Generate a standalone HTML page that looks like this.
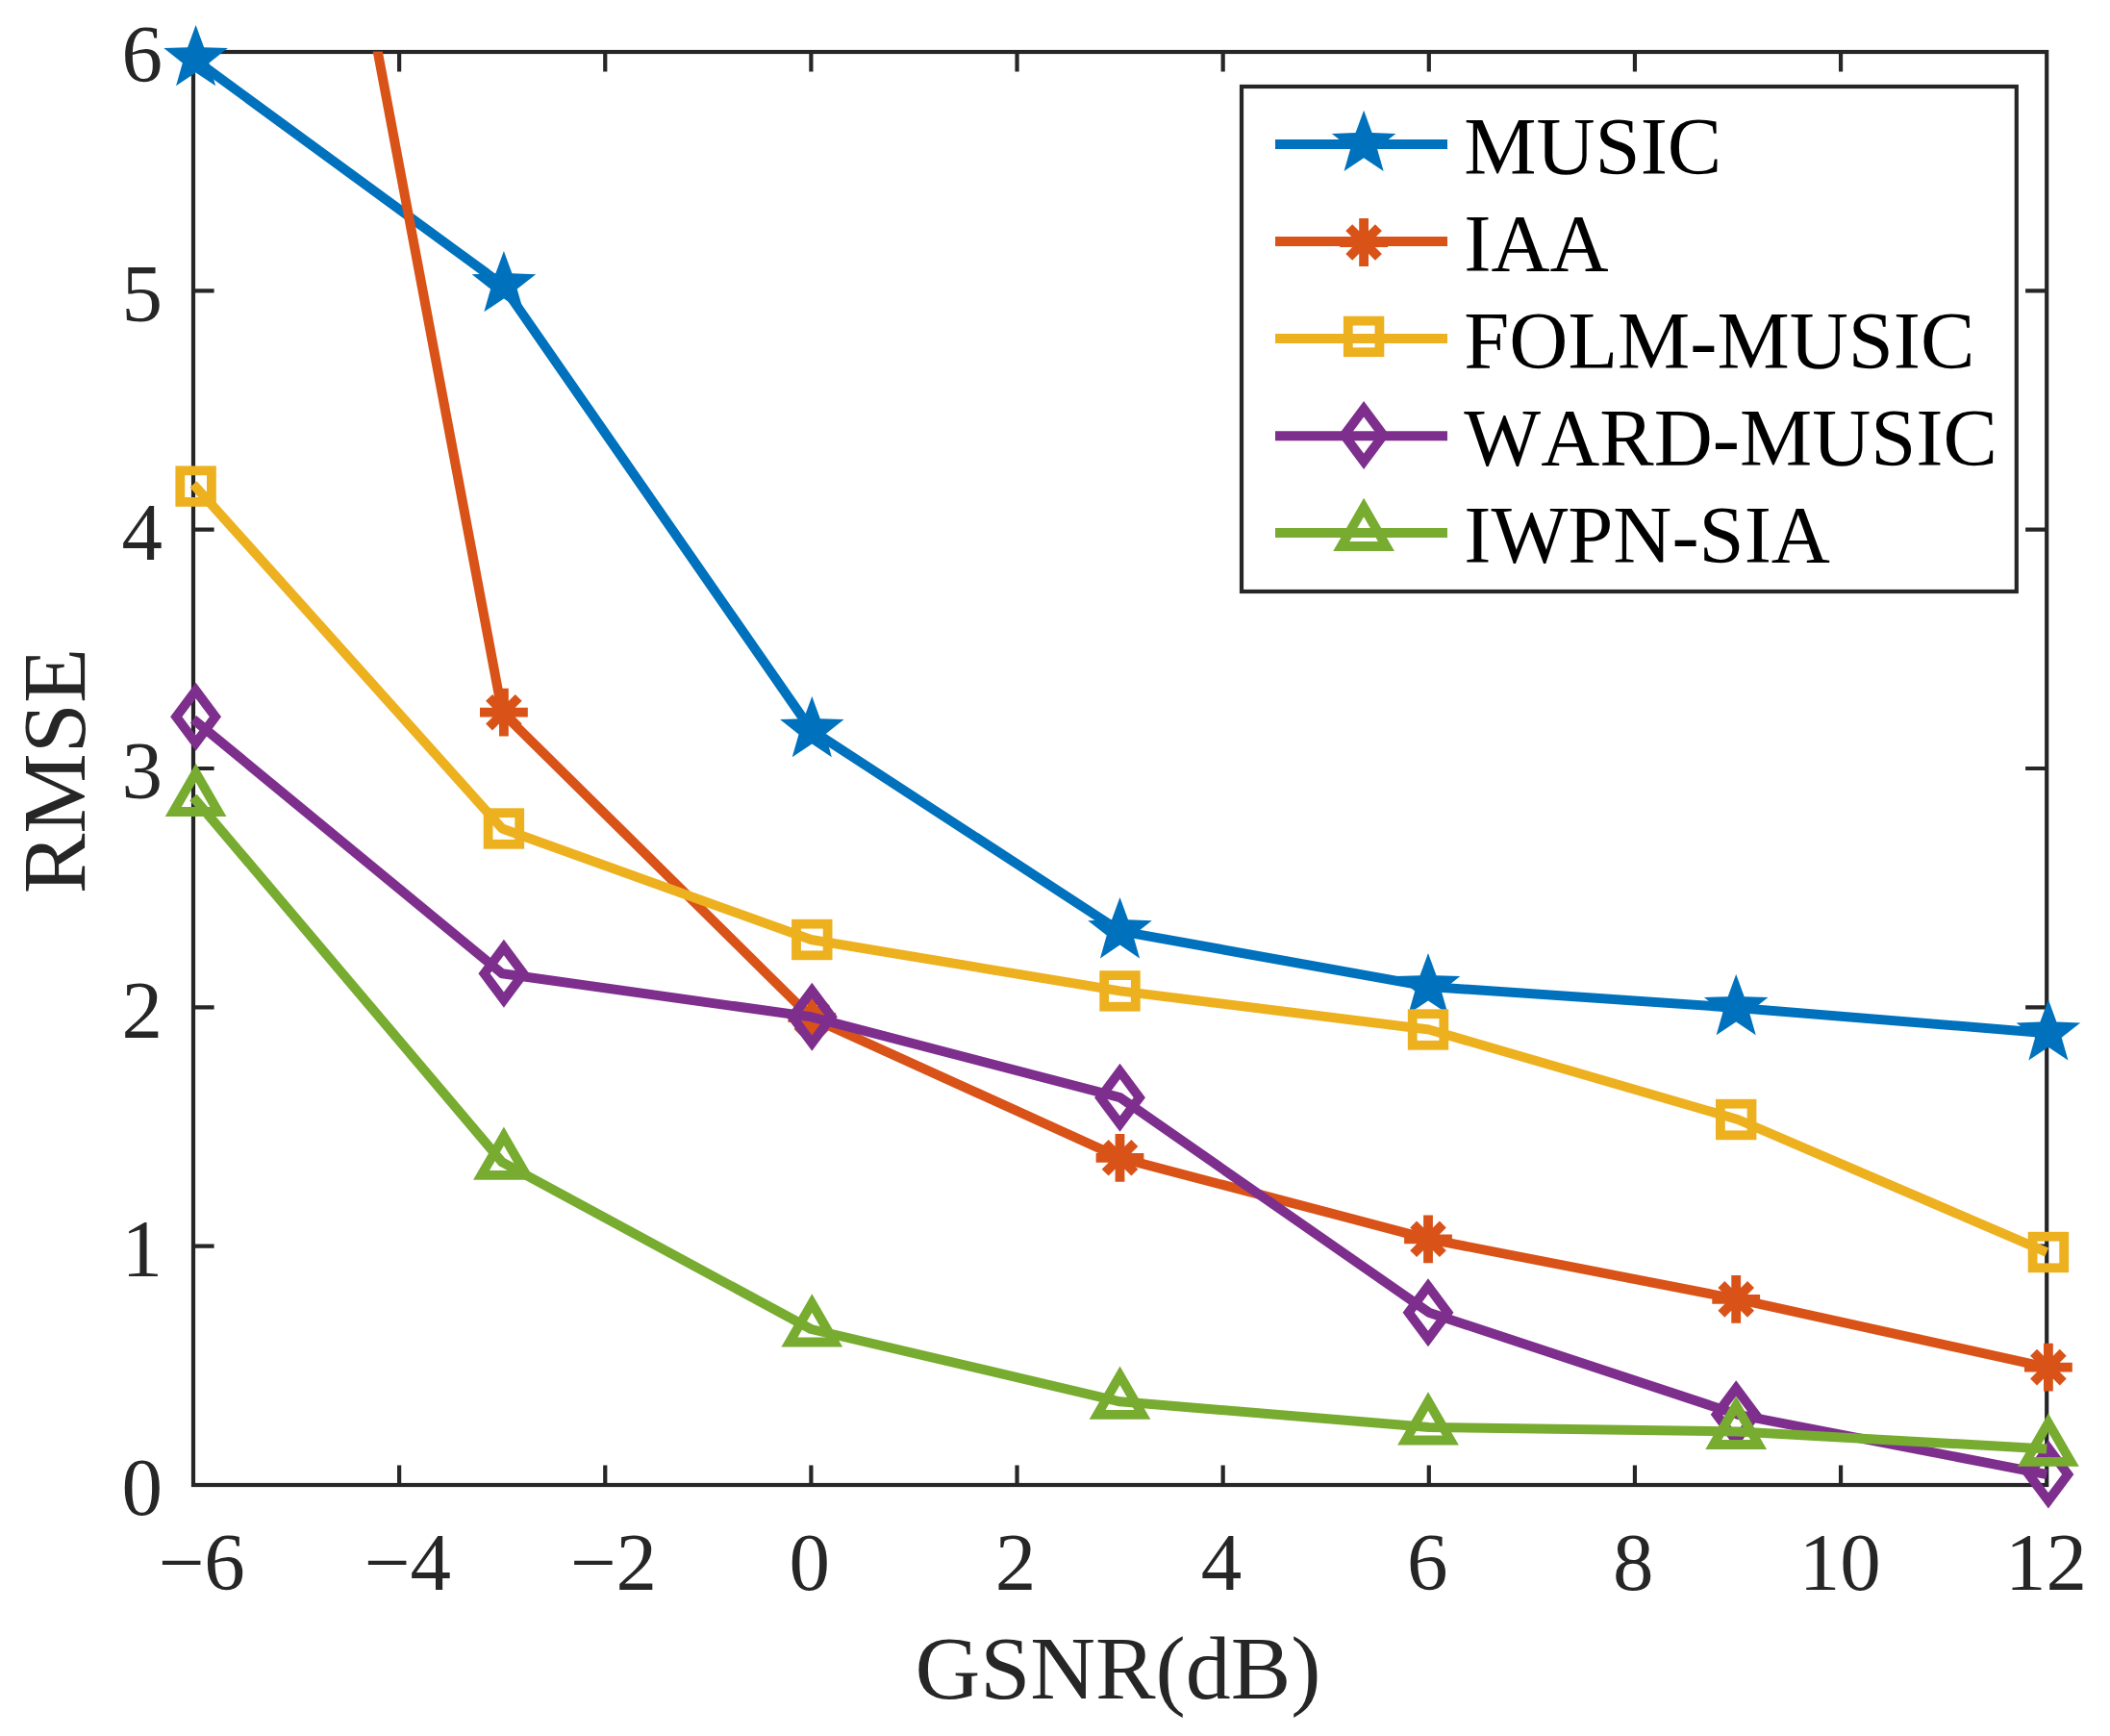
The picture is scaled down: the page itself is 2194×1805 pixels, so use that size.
<!DOCTYPE html>
<html lang="en"><head><meta charset="utf-8"><title>RMSE versus GSNR</title>
<style>html,body{margin:0;padding:0;background:#fff}svg{display:block}text{font-family:"Liberation Serif","Times New Roman",serif;font-kerning:none;font-variant-ligatures:none}.t{font-size:85px;fill:#262626}.l{font-size:93.8px;fill:#262626}.k{font-size:84.6px;fill:#000}</style></head><body>
<svg width="2194" height="1805" viewBox="0 0 2194 1805">
<rect width="2194" height="1805" fill="#fff"/>
<defs><clipPath id="c"><rect x="196" y="53.5" width="1937.2" height="1496"/></clipPath></defs>
<g stroke="#262626" stroke-width="4.2" fill="none">
<rect x="201" y="54" width="1927.2" height="1490"/>
<path d="M415.13 1544V1523.5M415.13 54V74.5M629.27 1544V1523.5M629.27 54V74.5M843.4 1544V1523.5M843.4 54V74.5M1057.53 1544V1523.5M1057.53 54V74.5M1271.67 1544V1523.5M1271.67 54V74.5M1485.8 1544V1523.5M1485.8 54V74.5M1699.93 1544V1523.5M1699.93 54V74.5M1914.07 1544V1523.5M1914.07 54V74.5M201 1295.67H222.6M2128.2 1295.67H2106.1M201 1047.33H222.6M2128.2 1047.33H2106.1M201 799H222.6M2128.2 799H2106.1M201 550.67H222.6M2128.2 550.67H2106.1M201 302.33H222.6M2128.2 302.33H2106.1"/>
</g>
<g class="t">
<text x="164.4" y="1653">−6</text>
<text x="378.53" y="1653">−4</text>
<text x="592.67" y="1653">−2</text>
<text x="841.8" y="1653" text-anchor="middle">0</text>
<text x="1055.93" y="1653" text-anchor="middle">2</text>
<text x="1270.07" y="1653" text-anchor="middle">4</text>
<text x="1484.2" y="1653" text-anchor="middle">6</text>
<text x="1698.33" y="1653" text-anchor="middle">8</text>
<text x="1913.27" y="1653" text-anchor="middle">10</text>
<text x="2127.4" y="1653" text-anchor="middle">12</text>
<text x="169" y="1575.4" text-anchor="end">0</text>
<text x="169" y="1327.07" text-anchor="end">1</text>
<text x="169" y="1078.73" text-anchor="end">2</text>
<text x="169" y="830.4" text-anchor="end">3</text>
<text x="169" y="582.07" text-anchor="end">4</text>
<text x="169" y="333.73" text-anchor="end">5</text>
<text x="169" y="85.4" text-anchor="end">6</text>
</g>
<text class="l" x="1162.5" y="1765.6" text-anchor="middle">GSNR(dB)</text>
<text class="l" transform="translate(88.2 801.5) rotate(-90)" text-anchor="middle">RMSE</text>
<g>
<polyline clip-path="url(#c)" points="201,60.9 522.2,296 843.4,758.9 1164.6,968.1 1485.8,1025.9 1807,1047.9 2128.2,1074.2" fill="none" stroke="#0072BD" stroke-width="10" stroke-linejoin="round"/>
<polygon points="203.6,25.9 212.12,49.17 236.89,50.08 217.39,65.38 224.17,89.22 203.6,75.4 183.03,89.22 189.81,65.38 170.31,50.08 195.08,49.17" fill="#0072BD"/>
<polygon points="523.9,261 532.42,284.27 557.19,285.18 537.69,300.48 544.47,324.32 523.9,310.5 503.33,324.32 510.11,300.48 490.61,285.18 515.38,284.27" fill="#0072BD"/>
<polygon points="844.3,723.9 852.82,747.17 877.59,748.08 858.09,763.38 864.87,787.22 844.3,773.4 823.73,787.22 830.51,763.38 811.01,748.08 835.78,747.17" fill="#0072BD"/>
<polygon points="1164.5,933.1 1173.02,956.37 1197.79,957.28 1178.29,972.58 1185.07,996.42 1164.5,982.6 1143.93,996.42 1150.71,972.58 1131.21,957.28 1155.98,956.37" fill="#0072BD"/>
<polygon points="1485,990.9 1493.52,1014.17 1518.29,1015.08 1498.79,1030.38 1505.57,1054.22 1485,1040.4 1464.43,1054.22 1471.21,1030.38 1451.71,1015.08 1476.48,1014.17" fill="#0072BD"/>
<polygon points="1805.2,1012.9 1813.72,1036.17 1838.49,1037.08 1818.99,1052.38 1825.77,1076.22 1805.2,1062.4 1784.63,1076.22 1791.41,1052.38 1771.91,1037.08 1796.68,1036.17" fill="#0072BD"/>
<polygon points="2129.9,1039.2 2138.42,1062.47 2163.19,1063.38 2143.69,1078.68 2150.47,1102.52 2129.9,1088.7 2109.33,1102.52 2116.11,1078.68 2096.61,1063.38 2121.38,1062.47" fill="#0072BD"/>
</g>
<g>
<polyline clip-path="url(#c)" points="201,-964 522.2,740.7 843.4,1058 1164.6,1203.8 1485.8,1288.3 1807,1350.9 2128.2,1421.6" fill="none" stroke="#D95319" stroke-width="10" stroke-linejoin="round"/>
<path d="M499 740.7H548.8M523.9 715.8V765.6M508.56 725.36L539.24 756.04M508.56 756.04L539.24 725.36" stroke="#D95319" stroke-width="9.8" fill="none"/>
<path d="M819.4 1058H869.2M844.3 1033.1V1082.9M828.96 1042.66L859.64 1073.34M828.96 1073.34L859.64 1042.66" stroke="#D95319" stroke-width="9.8" fill="none"/>
<path d="M1139.6 1203.8H1189.4M1164.5 1178.9V1228.7M1149.16 1188.46L1179.84 1219.14M1149.16 1219.14L1179.84 1188.46" stroke="#D95319" stroke-width="9.8" fill="none"/>
<path d="M1460.1 1288.3H1509.9M1485 1263.4V1313.2M1469.66 1272.96L1500.34 1303.64M1469.66 1303.64L1500.34 1272.96" stroke="#D95319" stroke-width="9.8" fill="none"/>
<path d="M1780.3 1350.9H1830.1M1805.2 1326V1375.8M1789.86 1335.56L1820.54 1366.24M1789.86 1366.24L1820.54 1335.56" stroke="#D95319" stroke-width="9.8" fill="none"/>
<path d="M2105 1421.6H2154.8M2129.9 1396.7V1446.5M2114.56 1406.26L2145.24 1436.94M2114.56 1436.94L2145.24 1406.26" stroke="#D95319" stroke-width="9.8" fill="none"/>
</g>
<g>
<polyline clip-path="url(#c)" points="201,503.5 522.2,861.5 843.4,977 1164.6,1030.4 1485.8,1070.5 1807,1164 2128.2,1302" fill="none" stroke="#EDB120" stroke-width="10" stroke-linejoin="round"/>
<rect x="187.3" y="489.3" width="32.6" height="32.6" stroke="#EDB120" stroke-width="9.8" fill="none"/>
<rect x="507.6" y="845.2" width="32.6" height="32.6" stroke="#EDB120" stroke-width="9.8" fill="none"/>
<rect x="828" y="960.7" width="32.6" height="32.6" stroke="#EDB120" stroke-width="9.8" fill="none"/>
<rect x="1148.2" y="1014.1" width="32.6" height="32.6" stroke="#EDB120" stroke-width="9.8" fill="none"/>
<rect x="1468.7" y="1054.2" width="32.6" height="32.6" stroke="#EDB120" stroke-width="9.8" fill="none"/>
<rect x="1788.9" y="1147.7" width="32.6" height="32.6" stroke="#EDB120" stroke-width="9.8" fill="none"/>
<rect x="2113.6" y="1285.7" width="32.6" height="32.6" stroke="#EDB120" stroke-width="9.8" fill="none"/>
</g>
<g>
<polyline clip-path="url(#c)" points="201,747.8 522.2,1012.3 843.4,1057.3 1164.6,1141.2 1485.8,1364.7 1807,1470.8 2128.2,1533" fill="none" stroke="#7E2F8E" stroke-width="10" stroke-linejoin="round"/>
<path d="M203.6 718L223.95 745.3L203.6 772.6L183.25 745.3Z" stroke="#7E2F8E" stroke-width="9.8" fill="none"/>
<path d="M523.9 985L544.25 1012.3L523.9 1039.6L503.55 1012.3Z" stroke="#7E2F8E" stroke-width="9.8" fill="none"/>
<path d="M844.3 1030L864.65 1057.3L844.3 1084.6L823.95 1057.3Z" stroke="#7E2F8E" stroke-width="9.8" fill="none"/>
<path d="M1164.5 1113.9L1184.85 1141.2L1164.5 1168.5L1144.15 1141.2Z" stroke="#7E2F8E" stroke-width="9.8" fill="none"/>
<path d="M1485 1337.4L1505.35 1364.7L1485 1392L1464.65 1364.7Z" stroke="#7E2F8E" stroke-width="9.8" fill="none"/>
<path d="M1805.2 1443.5L1825.55 1470.8L1805.2 1498.1L1784.85 1470.8Z" stroke="#7E2F8E" stroke-width="9.8" fill="none"/>
<path d="M2129.9 1505.7L2150.25 1533L2129.9 1560.3L2109.55 1533Z" stroke="#7E2F8E" stroke-width="9.8" fill="none"/>
</g>
<g>
<polyline clip-path="url(#c)" points="201,829 522.2,1208.4 843.4,1382 1164.6,1457.3 1485.8,1484 1807,1488.5 2128.2,1506.4" fill="none" stroke="#77AC30" stroke-width="10" stroke-linejoin="round"/>
<path d="M203.6 803.5L226.98 844L180.22 844Z" stroke="#77AC30" stroke-width="9.8" fill="none"/>
<path d="M523.9 1181.4L547.28 1221.9L500.52 1221.9Z" stroke="#77AC30" stroke-width="9.8" fill="none"/>
<path d="M844.3 1355L867.68 1395.5L820.92 1395.5Z" stroke="#77AC30" stroke-width="9.8" fill="none"/>
<path d="M1164.5 1430.3L1187.88 1470.8L1141.12 1470.8Z" stroke="#77AC30" stroke-width="9.8" fill="none"/>
<path d="M1485 1457L1508.38 1497.5L1461.62 1497.5Z" stroke="#77AC30" stroke-width="9.8" fill="none"/>
<path d="M1805.2 1461.5L1828.58 1502L1781.82 1502Z" stroke="#77AC30" stroke-width="9.8" fill="none"/>
<path d="M2129.9 1479.4L2153.28 1519.9L2106.52 1519.9Z" stroke="#77AC30" stroke-width="9.8" fill="none"/>
</g>
<rect x="1291" y="90" width="805.8" height="525" fill="#fff" stroke="#262626" stroke-width="4.2"/>
<path d="M1326 149.9H1505" stroke="#0072BD" stroke-width="10" fill="none"/>
<polygon points="1418.1,114.7 1426.62,137.97 1451.39,138.88 1431.89,154.18 1438.67,178.02 1418.1,164.2 1397.53,178.02 1404.31,154.18 1384.81,138.88 1409.58,137.97" fill="#0072BD"/>
<text class="k" x="1522.3" y="181.2">MUSIC</text>
<path d="M1326 250.9H1505" stroke="#D95319" stroke-width="10" fill="none"/>
<path d="M1393.2 252H1443M1418.1 227.1V276.9M1402.76 236.66L1433.44 267.34M1402.76 267.34L1433.44 236.66" stroke="#D95319" stroke-width="9.8" fill="none"/>
<text class="k" x="1522.3" y="282.1">IAA</text>
<path d="M1326 352H1505" stroke="#EDB120" stroke-width="10" fill="none"/>
<rect x="1401.8" y="333.6" width="32.6" height="32.6" stroke="#EDB120" stroke-width="9.8" fill="none"/>
<text class="k" x="1522.3" y="383">FOLM-MUSIC</text>
<path d="M1326 453.2H1505" stroke="#7E2F8E" stroke-width="10" fill="none"/>
<path d="M1418.1 425.2L1438.45 452.5L1418.1 479.8L1397.75 452.5Z" stroke="#7E2F8E" stroke-width="9.8" fill="none"/>
<text class="k" x="1522.3" y="483.9">WARD-MUSIC</text>
<path d="M1326 553.9H1505" stroke="#77AC30" stroke-width="10" fill="none"/>
<path d="M1418.1 527.5L1441.48 568L1394.72 568Z" stroke="#77AC30" stroke-width="9.8" fill="none"/>
<text class="k" x="1522.3" y="584.8">IWPN-SIA</text>
</svg></body></html>
